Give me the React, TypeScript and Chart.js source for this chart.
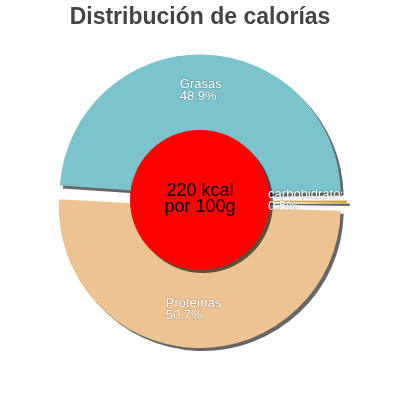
import React, { useEffect, useRef } from 'react';
import { Chart, registerables } from 'chart.js';

Chart.register(...registerables);

const title = 'Distribución de calorías';
const categories = ['Grasas', 'carbohidratos', 'Proteínas'];
const percentages = [48.9, 0.5, 50.7];
const sliceColors = ['#7bc4cc', '#d9a523', '#edc491'];
const centerLines = ['220 kcal', 'por 100g'];

const FONT = "'Liberation Sans', Arial, sans-serif";
// chart.js shifts each arc by offset / 4 and grows its radius by the same amount
const SLICE_OFFSET = 24;

const overlayPlugin = {
  id: 'overlay',
  beforeDatasetsDraw(chart: any) {
    const ctx = chart.ctx;
    ctx.save();
    ctx.shadowColor = 'rgba(0, 0, 0, 0.6)';
    ctx.shadowOffsetX = 3;
    ctx.shadowOffsetY = 3;
    ctx.shadowBlur = 0;
  },
  afterDatasetsDraw(chart: any) {
    const ctx = chart.ctx;
    ctx.restore();

    const arcs = chart.getDatasetMeta(0).data;
    const cx = arcs[0].x;
    const cy = arcs[0].y;

    // red disc in the middle, with its shadow
    ctx.save();
    ctx.shadowColor = 'rgba(0, 0, 0, 0.6)';
    ctx.shadowOffsetX = 3;
    ctx.shadowOffsetY = 3;
    ctx.beginPath();
    ctx.arc(cx, cy - 1, 70, 0, Math.PI * 2);
    ctx.fillStyle = '#ff0000';
    ctx.fill();
    ctx.restore();

    // centre text
    ctx.save();
    ctx.font = `18px ${FONT}`;
    ctx.fillStyle = '#000';
    ctx.textAlign = 'center';
    ctx.textBaseline = 'alphabetic';
    ctx.fillText(centerLines[0], cx, cy - 5);
    ctx.fillText(centerLines[1], cx, cy + 11);
    ctx.restore();

    // slice labels
    ctx.save();
    ctx.beginPath();
    ctx.rect(0, 0, 342, 400);
    ctx.clip();
    ctx.font = `13px ${FONT}`;
    ctx.textAlign = 'left';
    ctx.textBaseline = 'alphabetic';
    ctx.lineJoin = 'round';
    arcs.forEach((arc: any, i: number) => {
      const { startAngle, endAngle } = arc.getProps(['startAngle', 'endAngle'], true);
      const mid = (startAngle + endAngle) / 2;
      const r = 103.5 + SLICE_OFFSET / 4;
      const lx = cx + Math.cos(mid) * r - 2;
      const ly = cy + Math.sin(mid) * r - 3.5;
      const lines = [categories[i], percentages[i].toFixed(1) + '%'];
      const w = Math.max(...lines.map((l) => ctx.measureText(l).width));
      const left = lx - w / 2;
      lines.forEach((line, j) => {
        ctx.strokeStyle = 'rgba(0, 0, 0, 0.18)';
        ctx.lineWidth = 1.5;
        ctx.strokeText(line, left, ly + j * 12);
        ctx.fillStyle = '#ffffff';
        ctx.fillText(line, left, ly + j * 12);
      });
    });
    ctx.restore();
  },
};

export default function App() {
  const canvasRef = useRef<HTMLCanvasElement>(null);
  const chartRef = useRef<Chart | null>(null);

  useEffect(() => {
    if (!canvasRef.current) return;
    if (chartRef.current) chartRef.current.destroy();

    chartRef.current = new Chart(canvasRef.current, {
      type: 'pie',
      data: {
        labels: categories,
        datasets: [
          {
            data: percentages,
            backgroundColor: sliceColors,
            borderWidth: 0,
            offset: SLICE_OFFSET,
            clip: false as any,
          },
        ],
      },
      options: {
        responsive: true,
        maintainAspectRatio: false,
        animation: false,
        rotation: -86.5,
        radius: 135,
        layout: { padding: { top: 0, bottom: 33.6, left: 0, right: 0 } },
        plugins: {
          legend: { display: false },
          tooltip: { enabled: false },
          title: {
            display: true,
            text: title,
            color: '#444444',
            font: { family: FONT, size: 23, weight: 'bold', lineHeight: 1.2 },
            padding: { top: 4, bottom: 4 },
          },
        },
      },
      plugins: [overlayPlugin],
    });

    return () => {
      if (chartRef.current) {
        chartRef.current.destroy();
        chartRef.current = null;
      }
    };
  }, []);

  return (
    <div style={{ position: 'absolute', left: 0, top: 0, width: 400, height: 400 }}>
      <canvas ref={canvasRef}></canvas>
    </div>
  );
}
